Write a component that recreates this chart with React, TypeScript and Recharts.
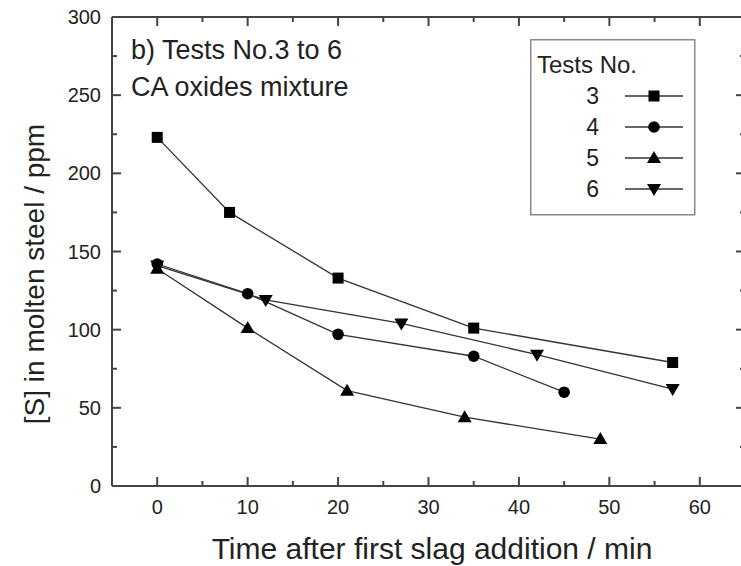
import React from "react";
import { LineChart, Line, XAxis, YAxis } from "recharts";

// Sulfur content in molten steel vs time after first slag addition (tests 3-6)
const times3 = [0, 8, 20, 35, 57];
const sulfur3 = [223, 175, 133, 101, 79];
const times4 = [0, 10, 20, 35, 45];
const sulfur4 = [142, 123, 97, 83, 60];
const times5 = [0, 10, 21, 34, 49];
const sulfur5 = [139, 101, 61, 44, 30];
const times6 = [0, 12, 27, 42, 57];
const sulfur6 = [141, 119, 104, 84, 62];

const xTicks = [-5, 0, 5, 10, 15, 20, 25, 30, 35, 40, 45, 50, 55, 60, 65];
const yTicks = [0, 25, 50, 75, 100, 125, 150, 175, 200, 225, 250, 275, 300];

const FONT = '"Liberation Sans", Arial, Helvetica, sans-serif';
const INK = "#222";
const FRAME = "#444";

// chart box
const CHART_W = 760;
const CHART_H = 566;
const M_TOP = 16;
const M_RIGHT = 14;
const X_AXIS_H = 80;
const Y_AXIS_W = 112;
const PLOT_W = CHART_W - M_RIGHT - 1 - Y_AXIS_W;
const PLOT_H = CHART_H - M_TOP - 1 - X_AXIS_H;

type Shape = "square" | "circle" | "up" | "down";

const rows = (t: number[], s: number[]) => t.map((v, i) => ({ t: v, s: s[i] }));

const series: { name: string; shape: Shape; data: { t: number; s: number }[] }[] = [
  { name: "3", shape: "square", data: rows(times3, sulfur3) },
  { name: "4", shape: "circle", data: rows(times4, sulfur4) },
  { name: "5", shape: "up", data: rows(times5, sulfur5) },
  { name: "6", shape: "down", data: rows(times6, sulfur6) },
];

function Marker({ cx, cy, shape }: { cx: number; cy: number; shape: Shape }) {
  if (shape === "square") return <rect x={cx - 5.5} y={cy - 5.5} width={11} height={11} fill="#000" />;
  if (shape === "circle") return <circle cx={cx} cy={cy} r={5.8} fill="#000" />;
  if (shape === "up")
    return <polygon points={`${cx},${cy - 7} ${cx - 7},${cy + 5} ${cx + 7},${cy + 5}`} fill="#000" />;
  return <polygon points={`${cx},${cy + 7} ${cx - 7},${cy - 5} ${cx + 7},${cy - 5}`} fill="#000" />;
}

const isMajorX = (v: number) => v % 10 === 0;
const isMajorY = (v: number) => v % 50 === 0;
const isEdgeX = (v: number) => v === -5 || v === 65;
const isEdgeY = (v: number) => v === 0 || v === 300;

// bottom axis tick: inward tick on the bottom and mirrored one on the top frame, plus label
function BottomTick(props: any) {
  const { x, y, payload } = props;
  const v = payload.value as number;
  if (isEdgeX(v)) return <g />;
  const major = isMajorX(v);
  const len = major ? 9 : 5;
  const top = y - PLOT_H;
  return (
    <g>
      <line x1={x} x2={x} y1={y} y2={y - len} stroke={FRAME} strokeWidth={2} />
      <line x1={x} x2={x} y1={top} y2={top + len} stroke={FRAME} strokeWidth={2} />
      {major && (
        <text x={x} y={y + 28} textAnchor="middle" fontSize={20} fill={INK} fontFamily={FONT}>
          {v}
        </text>
      )}
    </g>
  );
}

// left axis tick: inward tick on the left and mirrored one on the right frame, plus label
function LeftTick(props: any) {
  const { x, y, payload } = props;
  const v = payload.value as number;
  const major = isMajorY(v);
  const len = major ? 9 : 5;
  const right = x + PLOT_W;
  return (
    <g>
      {!isEdgeY(v) && (
        <>
          <line x1={x} x2={x + len} y1={y} y2={y} stroke={FRAME} strokeWidth={2} />
          <line x1={right} x2={right - len} y1={y} y2={y} stroke={FRAME} strokeWidth={2} />
        </>
      )}
      {major && (
        <text x={x - 11} y={y + 7} textAnchor="end" fontSize={20} fill={INK} fontFamily={FONT}>
          {v}
        </text>
      )}
    </g>
  );
}

function LegendBox() {
  const rowY = [57, 88, 119, 150];
  return (
    <svg width={166} height={177} style={{ position: "absolute", left: 530, top: 39 }}>
      <rect x={0.75} y={0.75} width={164} height={175} fill="#fff" stroke="#8a8a8a" strokeWidth={1.5} />
      <text x={7} y={34} fontSize={24} fill={INK} fontFamily={FONT}>
        Tests No.
      </text>
      {series.map((s, i) => (
        <g key={s.name}>
          <text x={69} y={rowY[i] + 8} textAnchor="end" fontSize={23} fill={INK} fontFamily={FONT}>
            {s.name}
          </text>
          <line x1={95} x2={153} y1={rowY[i]} y2={rowY[i]} stroke="#333" strokeWidth={1.3} />
          <Marker cx={124} cy={rowY[i]} shape={s.shape} />
        </g>
      ))}
    </svg>
  );
}

export default function App() {
  return (
    <div style={{ position: "absolute", left: 0, top: 0, width: 741, height: 566, overflow: "hidden", background: "#fff" }}>
      <LineChart width={CHART_W} height={CHART_H} margin={{ top: M_TOP, right: M_RIGHT, left: 0, bottom: 0 }}>
        <XAxis
          xAxisId="b"
          dataKey="t"
          type="number"
          domain={[-5, 65]}
          ticks={xTicks}
          interval={0}
          orientation="bottom"
          height={X_AXIS_H}
          tickSize={0}
          tickMargin={0}
          tickLine={false}
          axisLine={{ stroke: FRAME, strokeWidth: 2 }}
          tick={<BottomTick />}
          allowDataOverflow
        />
        <XAxis
          xAxisId="t"
          dataKey="t"
          type="number"
          domain={[-5, 65]}
          orientation="top"
          height={1}
          tickLine={false}
          tick={false}
          axisLine={{ stroke: FRAME, strokeWidth: 2 }}
          allowDataOverflow
        />
        <YAxis
          yAxisId="l"
          type="number"
          domain={[0, 300]}
          ticks={yTicks}
          interval={0}
          orientation="left"
          width={Y_AXIS_W}
          tickSize={0}
          tickMargin={0}
          tickLine={false}
          axisLine={{ stroke: FRAME, strokeWidth: 2 }}
          tick={<LeftTick />}
          allowDataOverflow
        />
        <YAxis
          yAxisId="r"
          type="number"
          domain={[0, 300]}
          orientation="right"
          width={1}
          tickLine={false}
          tick={false}
          axisLine={{ stroke: FRAME, strokeWidth: 2 }}
          allowDataOverflow
        />
        {series.map((s) => (
          <Line
            key={s.name}
            name={s.name}
            xAxisId="b"
            yAxisId="l"
            data={s.data}
            dataKey="s"
            type="linear"
            stroke="#333"
            strokeWidth={1.3}
            isAnimationActive={false}
            dot={(p: any) => <Marker key={`${s.name}-${p.index}`} cx={p.cx} cy={p.cy} shape={s.shape} />}
          />
        ))}
      </LineChart>
      <LegendBox />
      <svg
        width={741}
        height={566}
        style={{ position: "absolute", left: 0, top: 0, pointerEvents: "none" }}
      >
        <text x={131} y={59} fontSize={27} fill={INK} fontFamily={FONT}>
          b) Tests No.3 to 6
        </text>
        <text x={131} y={96} fontSize={27} fill={INK} fontFamily={FONT}>
          CA oxides mixture
        </text>
        <text x={432} y={559} textAnchor="middle" fontSize={30} fill={INK} fontFamily={FONT}>
          Time after first slag addition / min
        </text>
        <text
          x={0}
          y={0}
          transform="translate(44 274) rotate(-90)"
          textAnchor="middle"
          fontSize={28}
          fill={INK}
          fontFamily={FONT}
        >
          [S] in molten steel / ppm
        </text>
      </svg>
    </div>
  );
}
